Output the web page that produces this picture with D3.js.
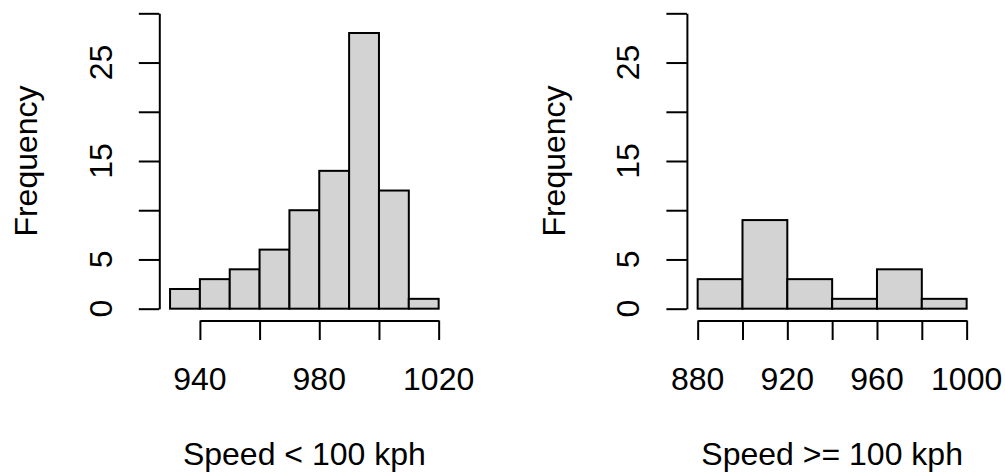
<!DOCTYPE html>
<html>
<head>
<meta charset="utf-8">
<script src="https://cdn.jsdelivr.net/npm/d3@7"></script>
<style>
  body { margin: 0; background: #fff; }
  svg { display: block; }
  text { font-family: "Liberation Sans", Arial, Helvetica, sans-serif; fill: #000; }
</style>
</head>
<body>
<svg id="chart" width="1005" height="476"></svg>
<script>
// histogram data
var leftBreaks = [930, 940, 950, 960, 970, 980, 990, 1000, 1010, 1020];
var leftCounts = [2, 3, 4, 6, 10, 14, 28, 12, 1];
var leftTicks = [940, 960, 980, 1000, 1020];
var leftTickLabels = [940, 980, 1020];

var rightBreaks = [880, 900, 920, 940, 960, 980, 1000];
var rightCounts = [3, 9, 3, 1, 4, 1];
var rightTicks = [880, 900, 920, 940, 960, 980, 1000];
var rightTickLabels = [880, 920, 960, 1000];

var yTicks = [0, 5, 10, 15, 20, 25, 30];
var yTickLabels = [0, 5, 15, 25];
var yMax = 30;

var titles = ["Speed < 100 kph", "Speed >= 100 kph"];

var svg = d3.select("#chart");
var fontSize = 32;

// plot regions (R style: data range padded by 4%)
var plotTop = 1.5, plotBottom = 320.5;

function drawHist(left, right, breaks, counts, ticks, tickLabels, title) {
  var g = svg.append("g");

  var lo = breaks[0], hi = breaks[breaks.length - 1];
  var pad = (hi - lo) * 0.04;
  var x = d3.scaleLinear().domain([lo - pad, hi + pad]).range([left, right]);
  var yPad = yMax * 0.04;
  var y = d3.scaleLinear().domain([0 - yPad, yMax + yPad]).range([plotBottom, plotTop]);

  var bins = counts.map(function(c, i) { return {x0: breaks[i], x1: breaks[i + 1], n: c}; });

  g.selectAll("rect.bar")
    .data(bins)
    .enter().append("rect")
    .attr("class", "bar")
    .attr("x", function(d) { return x(d.x0); })
    .attr("y", function(d) { return y(d.n); })
    .attr("width", function(d) { return x(d.x1) - x(d.x0); })
    .attr("height", function(d) { return y(0) - y(d.n); })
    .attr("fill", "#d3d3d3")
    .attr("stroke", "#000")
    .attr("stroke-width", 2);

  // x axis spans first to last tick only
  var xa = x.copy().domain([ticks[0], ticks[ticks.length - 1]])
    .range([x(ticks[0]), x(ticks[ticks.length - 1])]);
  var xAxis = g.append("g")
    .attr("transform", "translate(0," + plotBottom + ")")
    .call(d3.axisBottom(xa).tickValues(ticks).tickSize(19.5).tickSizeOuter(0).tickFormat(""));
  xAxis.selectAll("path, line").attr("stroke", "#000").attr("stroke-width", 2);

  g.selectAll("text.xlab")
    .data(tickLabels)
    .enter().append("text")
    .attr("class", "xlab")
    .attr("x", function(d) { return x(d); })
    .attr("y", 390)
    .attr("text-anchor", "middle")
    .style("font-size", fontSize + "px")
    .text(function(d) { return d; });

  // y axis
  var ya = y.copy().domain([0, yMax]).range([y(0), y(yMax)]);
  var yAxis = g.append("g")
    .attr("transform", "translate(" + left + ",0)")
    .call(d3.axisLeft(ya).tickValues(yTicks).tickSize(20.5).tickSizeOuter(0).tickFormat(""));
  yAxis.selectAll("path, line").attr("stroke", "#000").attr("stroke-width", 2);

  g.selectAll("text.ylab")
    .data(yTickLabels)
    .enter().append("text")
    .attr("class", "ylab")
    .attr("transform", function(d) { return "translate(" + (left - 47.5) + "," + y(d) + ") rotate(-90)"; })
    .attr("text-anchor", "middle")
    .style("font-size", fontSize + "px")
    .text(function(d) { return d; });

  // axis titles
  g.append("text")
    .attr("x", (left + right) / 2)
    .attr("y", 465)
    .attr("text-anchor", "middle")
    .style("font-size", fontSize + "px")
    .text(title);

  g.append("text")
    .attr("transform", "translate(" + (left - 122) + "," + ((plotTop + plotBottom) / 2) + ") rotate(-90)")
    .attr("text-anchor", "middle")
    .style("font-size", fontSize + "px")
    .text("Frequency");
}

drawHist(159.3, 449.4, leftBreaks, leftCounts, leftTicks, leftTickLabels, titles[0]);
drawHist(686.9, 977.4, rightBreaks, rightCounts, rightTicks, rightTickLabels, titles[1]);
</script>
</body>
</html>
